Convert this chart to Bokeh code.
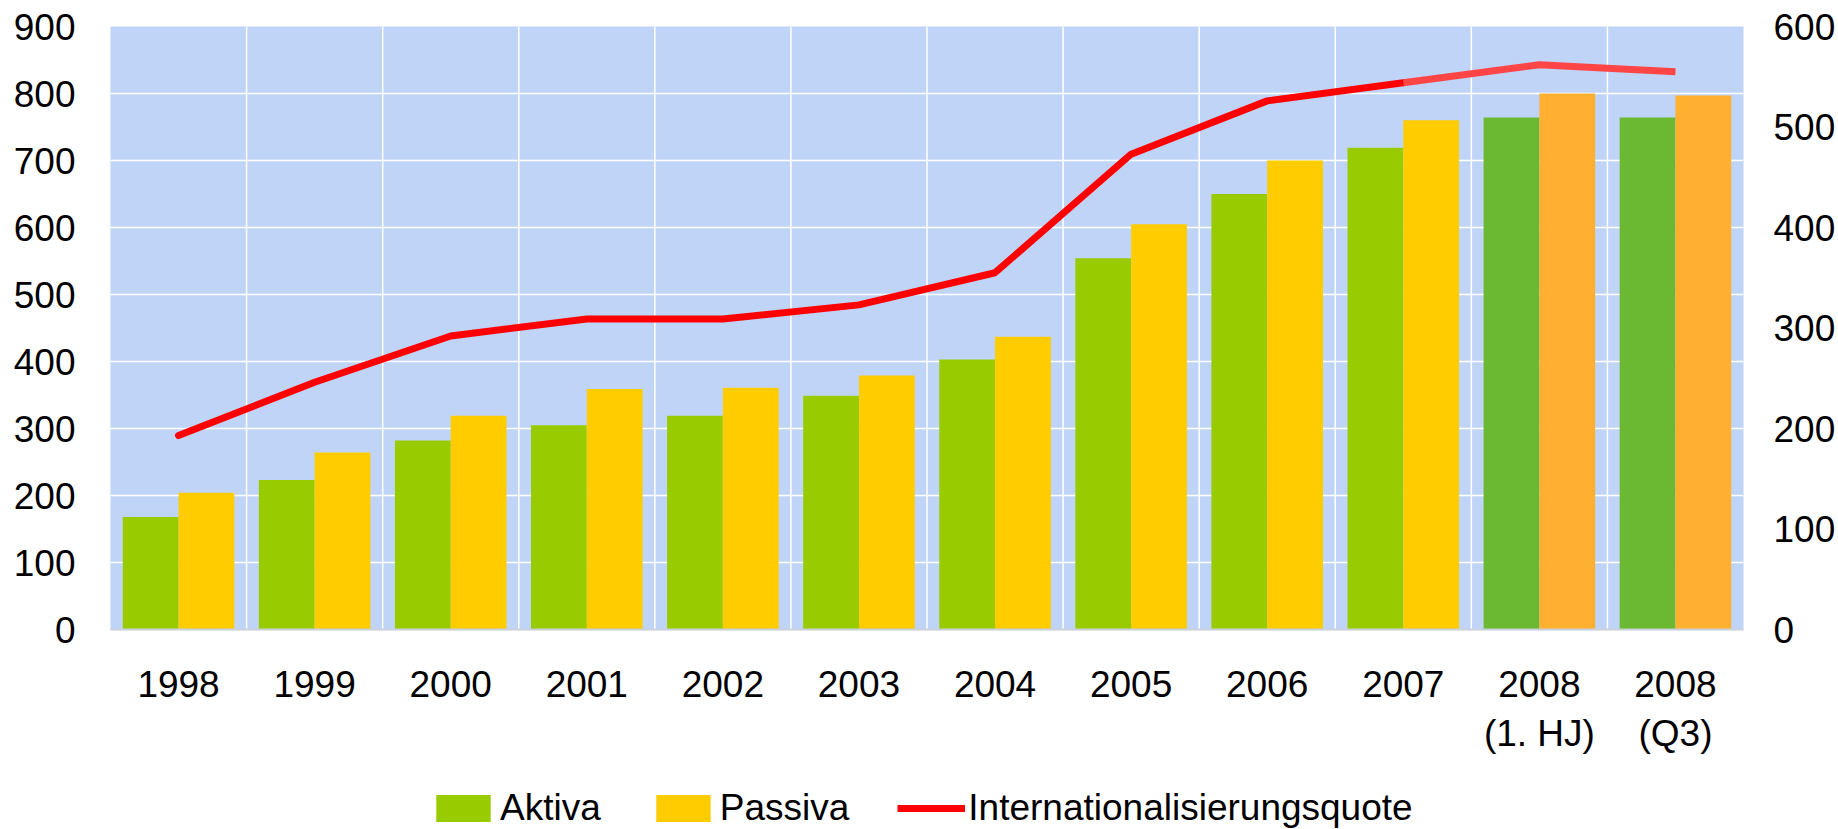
from bokeh.plotting import figure
from bokeh.layouts import column
from bokeh.models import (ColumnDataSource, Range1d, LinearAxis, SingleIntervalTicker,
                          Legend, LegendItem, Span)
from bokeh.transform import dodge
from bokeh.embed import file_html
from bokeh.resources import INLINE

# ---- data ----
categories = ["1998", "1999", "2000", "2001", "2002", "2003", "2004", "2005",
              "2006", "2007", "2008\n(1. HJ)", "2008\n(Q3)"]
aktiva = [168, 223, 282, 305, 319, 349, 403, 554, 650, 719, 764, 764]
passiva = [204, 264, 319, 359, 361, 379, 437, 605, 700, 760, 800, 797]
quote = [193, 246, 292, 309, 309, 323, 355, 473, 526, 544, 562, 555]
provisional = [False] * 10 + [True] * 2   # 2008 values drawn with lighter style
series_names = ["Aktiva", "Passiva", "Internationalisierungsquote"]

FONT = "Liberation Sans"
FS = "37px"
GREEN, YELLOW, RED = "#99CC00", "#FFCC00", "#FF0000"

akt_col = ["#6BB833" if f else GREEN for f in provisional]
pas_col = ["#FFB030" if f else YELLOW for f in provisional]

src = ColumnDataSource(dict(cat=categories, akt=aktiva, pas=passiva,
                            akt_col=akt_col, pas_col=pas_col))

p = figure(x_range=categories, y_range=Range1d(0, 900), width=1838, height=770,
           output_backend="svg", toolbar_location=None,
           min_border_left=110, min_border_right=94, min_border_top=26, min_border_bottom=141)
p.outline_line_color = None
p.background_fill_color = "#C0D4F8"
p.border_fill_color = "white"

p.extra_y_ranges = {"q": Range1d(0, 600)}

# grid
p.ygrid.grid_line_color = "white"
p.ygrid.grid_line_width = 1.5
p.ygrid.ticker = SingleIntervalTicker(interval=100)
p.xgrid.grid_line_color = None
for k in range(1, len(categories)):
    p.add_layout(Span(location=k, dimension="height", line_color="white",
                      line_width=1.5, level="underlay"))

# bars
w = 0.41
p.vbar(x=dodge("cat", -w / 2, range=p.x_range), top="akt", width=w, source=src,
       fill_color="akt_col", line_color=None)
p.vbar(x=dodge("cat", w / 2, range=p.x_range), top="pas", width=w, source=src,
       fill_color="pas_col", line_color=None)

# line (solid up to 2007, lighter for provisional 2008 values)
n_solid = provisional.index(True)
p.line(categories[:n_solid], quote[:n_solid], y_range_name="q",
       line_color=RED, line_width=7, line_join="round", line_cap="round")
p.line(categories[n_solid - 1:], quote[n_solid - 1:], y_range_name="q",
       line_color="#FF4545", line_width=7, line_join="round", line_cap="butt")

# axes
ya = p.yaxis[0]
ya.ticker = SingleIntervalTicker(interval=100)
ya.axis_line_color = None
ya.major_tick_line_color = None
ya.minor_tick_line_color = None
ya.major_label_text_font = FONT
ya.major_label_text_font_size = FS
ya.major_label_text_color = "black"
ya.major_label_standoff = 29

ra = LinearAxis(y_range_name="q", ticker=SingleIntervalTicker(interval=100))
ra.axis_line_color = None
ra.major_tick_line_color = None
ra.minor_tick_line_color = None
ra.major_label_text_font = FONT
ra.major_label_text_font_size = FS
ra.major_label_text_color = "black"
ra.major_label_standoff = 24
p.add_layout(ra, "right")

xa = p.xaxis[0]
xa.axis_line_color = "#C8D0DC"
xa.axis_line_width = 2
xa.major_tick_line_color = None
xa.minor_tick_line_color = None
xa.major_label_text_font = FONT
xa.major_label_text_font_size = FS
xa.major_label_text_color = "black"
xa.major_label_standoff = 28

# ---- legend strip (separate small figure below the chart) ----
lf = figure(width=1838, height=59, x_range=Range1d(0, 1), y_range=Range1d(0, 1),
            output_backend="svg", toolbar_location=None,
            x_axis_type=None, y_axis_type=None, min_border=0)
lf.outline_line_color = None
lf.xgrid.visible = False
lf.ygrid.visible = False
# legend-key renderers: zero-size marks, so only their legend keys show
k_a = lf.vbar(x=[0.5], top=[0], bottom=[0], width=0, fill_color=GREEN, line_color=None)
k_p = lf.vbar(x=[0.5], top=[0], bottom=[0], width=0, fill_color=YELLOW, line_color=None)
k_l = lf.line(x=[0.5, 0.5], y=[0.5, 0.5], line_color=RED, line_width=7, line_alpha=1)

legend = Legend(items=[LegendItem(label=n, renderers=[r], index=0)
                       for n, r in zip(series_names, [k_a, k_p, k_l])],
                orientation="horizontal", location=(319, 0))
legend.label_text_font = FONT
legend.label_text_font_size = FS
legend.label_text_color = "black"
legend.glyph_width = 68
legend.glyph_height = 34
legend.label_standoff = 3
legend.spacing = 48
legend.padding = 0
legend.margin = 0
legend.border_line_color = None
legend.background_fill_alpha = 0
lf.add_layout(legend, "center")

layout = column(p, lf, spacing=0)
open("out.html", "w").write(file_html(layout, INLINE))
